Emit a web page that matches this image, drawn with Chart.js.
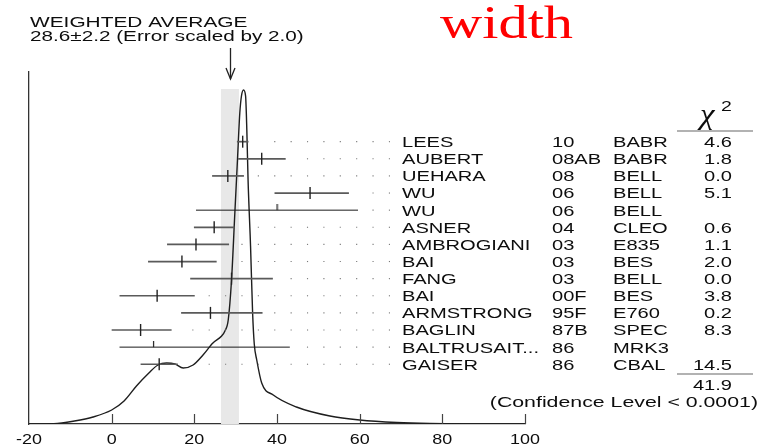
<!DOCTYPE html>
<html>
<head>
<meta charset="utf-8">
<script src="https://cdn.jsdelivr.net/npm/chart.js@4.4.1/dist/chart.umd.min.js"></script>
<style>
  body { margin: 0; background: #fff; }
</style>
</head>
<body>
<canvas id="ideogram" width="764" height="446"></canvas>
<script>
'use strict';

// measurements, top to bottom
const names = ['LEES', 'AUBERT', 'UEHARA', 'WU', 'WU', 'ASNER', 'AMBROGIANI', 'BAI', 'FANG', 'BAI', 'ARMSTRONG', 'BAGLIN', 'BALTRUSAIT...', 'GAISER'];
const years = ['10', '08AB', '08', '06', '06', '04', '03', '03', '03', '00F', '95F', '87B', '86', '86'];
const experiments = ['BABR', 'BABR', 'BELL', 'BELL', 'BELL', 'CLEO', 'E835', 'BES', 'BELL', 'BES', 'E760', 'SPEC', 'MRK3', 'CBAL'];
const chi2 = ['4.6', '1.8', '0.0', '5.1', '', '0.6', '1.1', '2.0', '0.0', '3.8', '0.2', '8.3', '', '14.5'];
const values = [31.7, 36.3, 28.1, 48, 40, 24.8, 20.4, 17.0, 29, 11.0, 23.9, 7.0, 10.1, 11.5];
const errMinus = [1.4, 5.7, 3.8, 8.6, 19.6, 4.9, 7.0, 8.2, 10, 9.1, 7.1, 7.0, 8.2, 4.5];
const errPlus = [1.4, 5.8, 3.9, 9.4, 19.6, 4.9, 8.0, 8.4, 10, 9.1, 12.6, 7.5, 33.0, 4.5];
const usedInFit = [true, true, true, true, false, true, true, true, true, true, true, true, false, true];
// where the dotted leader starts on each row
const dotFrom = [39.46, 47.38, 35.49, 63.24, 63.24, 35.49, 31.53, 31.53, 43.42, 23.6, 39.46, 19.64, 47.38, 23.6];

const average = 28.6;
const averageErr = 2.2;
const chi2Total = '41.9';
const confidence = '(Confidence Level < 0.0001)';

// ideogram curve
const curveX = [-20, -14, -9, -4.5, 0, 3, 6, 9, 11.2, 13.3, 15.3, 17.3, 19.7, 22.1, 24.5, 26.6, 27.4, 28.2, 29.0, 29.8, 30.4, 31.0, 31.4, 31.9, 32.4, 32.7, 33.0, 33.6, 34.1, 34.5, 35.1, 36.3, 39.1, 44.7, 52.8, 60, 69, 77, 88, 100];
const curveY = [0, 0.3, 3, 7, 14, 23, 38, 51, 59, 61, 60, 56, 59, 69, 81, 88, 93, 104, 144, 211, 261, 311, 328, 334, 328, 294, 244, 178, 111, 80, 64, 41, 29, 17, 8, 4, 1.5, 0.5, 0.1, 0];

const xTicks = [-20, 0, 20, 40, 60, 80, 100];

const SX = 1.34;   // the picture is stretched sideways
const dotStep = 3.964;
const dotEnd = 67.3;

function stretched(ctx, s, x, y, align, sx) {
  ctx.save();
  ctx.translate(x, y);
  ctx.scale(sx, 1);
  ctx.textAlign = align;
  ctx.fillText(s, 0, 0);
  ctx.restore();
}

function line(ctx, x1, y1, x2, y2) {
  ctx.beginPath();
  ctx.moveTo(x1, y1);
  ctx.lineTo(x2, y2);
  ctx.stroke();
}

// half tick for points not used in the fit
const halfTick = document.createElement('canvas');
halfTick.width = 3;
halfTick.height = 12;
(function () {
  const c = halfTick.getContext('2d');
  c.fillStyle = '#222';
  c.fillRect(1, 0, 1.2, 6);
})();

const decorations = {
  id: 'decorations',
  afterDraw(chart) {
    const {ctx, chartArea, scales} = chart;
    const x = scales.x;
    const row = scales.yRow;
    ctx.save();

    // inward tick marks
    ctx.strokeStyle = '#444';
    ctx.lineWidth = 1.2;
    x.ticks.forEach((t) => {
      if (t.value === x.min) return;
      const px = Math.round(x.getPixelForValue(t.value)) + 0.5;
      line(ctx, px, chartArea.bottom, px, chartArea.bottom - 10);
    });

    ctx.fillStyle = '#0d0d0d';
    ctx.textBaseline = 'alphabetic';
    ctx.font = '14px "Liberation Sans"';
    x.ticks.forEach((t) => {
      stretched(ctx, String(t.value), x.getPixelForValue(t.value), 444, 'center', 1.28);
    });

    // title
    ctx.font = '15px "Liberation Sans"';
    stretched(ctx, 'WEIGHTED AVERAGE', 30, 27, 'left', 1.39);
    stretched(ctx, average.toFixed(1) + '\u00b1' + averageErr.toFixed(1) + ' (Error scaled by 2.0)', 30, 40.5, 'left', 1.38);

    // arrow on the average
    const ax = Math.round(x.getPixelForValue(average)) + 0.5;
    ctx.strokeStyle = '#222';
    ctx.lineWidth = 1.3;
    line(ctx, ax, 48, ax, 79);
    ctx.beginPath();
    ctx.moveTo(ax - 4.5, 68);
    ctx.lineTo(ax, 79);
    ctx.lineTo(ax + 4.5, 68);
    ctx.stroke();

    // red label
    ctx.fillStyle = '#ff0000';
    ctx.font = '46px "Liberation Serif"';
    stretched(ctx, 'width', 440, 38, 'left', 1.27);

    // chi2 header
    ctx.fillStyle = '#0d0d0d';
    ctx.font = 'italic 30px "Liberation Serif"';
    stretched(ctx, '\u03c7', 700, 124, 'left', 1.1);
    ctx.font = '15px "Liberation Sans"';
    stretched(ctx, '2', 721, 111, 'left', 1.3);
    ctx.strokeStyle = '#999';
    ctx.lineWidth = 1.5;
    line(ctx, 677, 131, 753, 131);

    // table rows
    ctx.font = '15px "Liberation Sans"';
    names.forEach((name, i) => {
      const y = row.getPixelForValue(i) + 5.4;
      stretched(ctx, name, 402, y, 'left', SX);
      stretched(ctx, years[i], 552, y, 'left', SX);
      stretched(ctx, experiments[i], 613, y, 'left', SX);
      if (chi2[i]) stretched(ctx, chi2[i], 732, y, 'right', SX);
    });

    line(ctx, 677, 374, 753, 374);
    stretched(ctx, chi2Total, 732, 390, 'right', SX);
    stretched(ctx, confidence, 758, 406.5, 'right', 1.42);

    ctx.restore();
  }
};

const rows = names.map((_, i) => i);

const barSets = rows.map((i) => ({
  type: 'line',
  yAxisID: 'yRow',
  data: [{x: values[i] - errMinus[i], y: i}, {x: values[i] + errPlus[i], y: i}],
  borderColor: usedInFit[i] ? '#5a5a5a' : '#1a1a1a',
  borderWidth: usedInFit[i] ? 1.7 : 1,
  pointRadius: 0,
  order: 3,
}));

const dotData = [];
rows.forEach((i) => {
  for (let v = dotFrom[i]; v <= dotEnd; v += dotStep) dotData.push({x: v, y: i});
});

new Chart(document.querySelector('#ideogram'), {
  type: 'line',
  data: {
    datasets: [
      {
        // error-scaled band round the average
        data: [{x: average - averageErr, y: 335}, {x: average + averageErr, y: 335}],
        yAxisID: 'y',
        fill: 'origin',
        backgroundColor: '#e8e8e8',
        borderWidth: 0,
        pointRadius: 0,
        order: 10,
      },
      {
        data: curveX.map((v, i) => ({x: v, y: curveY[i]})),
        yAxisID: 'y',
        borderColor: '#1e1e1e',
        borderWidth: 1.4,
        cubicInterpolationMode: 'monotone',
        pointRadius: 0,
        fill: false,
        order: 5,
      },
      {
        type: 'scatter',
        data: dotData,
        yAxisID: 'yRow',
        pointStyle: 'rect',
        pointRadius: 0.8,
        backgroundColor: '#7a7a7a',
        borderWidth: 0,
        order: 4,
      },
      ...barSets,
      {
        type: 'scatter',
        data: rows.filter((i) => usedInFit[i]).map((i) => ({x: values[i], y: i})),
        yAxisID: 'yRow',
        pointStyle: 'line',
        rotation: 90,
        pointRadius: 6,
        borderColor: '#222',
        borderWidth: 1.4,
        order: 1,
      },
      {
        type: 'scatter',
        data: rows.filter((i) => !usedInFit[i]).map((i) => ({x: values[i], y: i})),
        yAxisID: 'yRow',
        pointStyle: halfTick,
        order: 1,
      },
    ],
  },
  options: {
    responsive: false,
    animation: false,
    devicePixelRatio: 1,
    layout: { padding: { left: 29, right: 239, top: 72, bottom: 22 } },
    plugins: {
      legend: { display: false },
      tooltip: { enabled: false },
    },
    scales: {
      x: {
        type: 'linear',
        min: xTicks[0],
        max: xTicks[xTicks.length - 1],
        afterBuildTicks: (scale) => { scale.ticks = xTicks.map((v) => ({value: v})); },
        ticks: { display: false },
        grid: { display: false, drawTicks: false },
        border: { display: true, color: '#333', width: 1.3 },
      },
      y: {
        type: 'linear',
        position: 'left',
        min: 0,
        max: 352,
        ticks: { display: false },
        grid: { display: false, drawTicks: false },
        border: { display: true, color: '#333', width: 1.3 },
      },
      yRow: {
        type: 'linear',
        display: false,
        reverse: true,
        min: -4.07,
        max: 16.49,
      },
    },
  },
  plugins: [decorations],
});
</script>
</body>
</html>
